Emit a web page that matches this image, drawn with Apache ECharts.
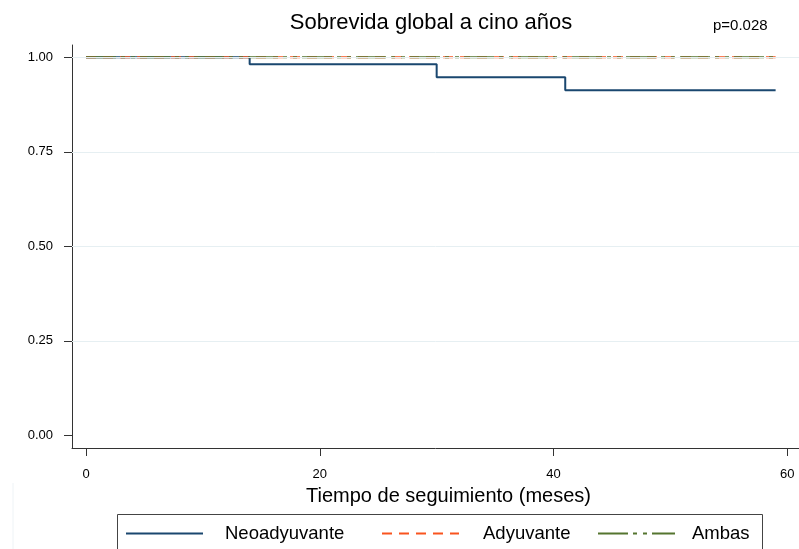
<!DOCTYPE html>
<html>
<head>
<meta charset="utf-8">
<script src="https://cdn.jsdelivr.net/npm/echarts@6/dist/echarts.min.js"></script>
<style>html,body{margin:0;padding:0;background:#fff}#c{width:799px;height:549px}</style>
</head>
<body>
<div id="c"></div>
<script>
const seriesNames = ['Neoadyuvante', 'Adyuvante', 'Ambas'];
const neoTime = [0, 14, 30, 41, 59];
const neoSurv = [1, 0.982, 0.947, 0.913, 0.913];
const adyTime = [0, 59];
const adySurv = [1, 1];
const ambTime = [0, 59];
const ambSurv = [1, 1];
const xTicks = [0, 20, 40, 60];
const yTicks = [0, 0.25, 0.5, 0.75, 1];
const gridValues = [0.25, 0.5, 0.75, 1];
const titleText = 'Sobrevida global a cino años';
const pText = 'p=0.028';
const xName = 'Tiempo de seguimiento (meses)';

const FONT = '"Liberation Sans", Arial, Helvetica, sans-serif';
const pair = (t, s) => t.map((v, i) => [v, s[i]]);
const colors = ['#1a476f', '#f9541f', '#55752f'];

const chart = echarts.init(document.getElementById('c'), null, {renderer: 'canvas'});
const legendLefts = [125, 381, 597];
const legendTextGap = [17, 19, 12];
chart.setOption({
  animation: false,
  backgroundColor: '#ffffff',
  title: [
    {text: titleText, left: 426, top: 7, textAlign: 'center',
     textStyle: {fontFamily: FONT, fontSize: 22, fontWeight: 'normal', color: '#000'}},
    {text: pText, left: 708, top: 13,
     textStyle: {fontFamily: FONT, fontSize: 15, fontWeight: 'normal', color: '#000'}}
  ],
  grid: {left: 72, top: 45, right: -7, bottom: 101, containLabel: false},
  xAxis: {
    type: 'value', min: -1.2, max: 61,
    name: xName, nameLocation: 'middle', nameGap: 38,
    nameTextStyle: {fontFamily: FONT, fontSize: 20, color: '#000', padding: [0, 0, 0, 26]},
    axisLine: {show: true, onZero: false, lineStyle: {color: '#333', width: 1}},
    axisTick: {show: true, inside: false, length: 8, customValues: xTicks, lineStyle: {color: '#333'}},
    axisLabel: {customValues: xTicks, margin: 20, fontFamily: FONT, fontSize: 13, color: '#000'},
    splitLine: {show: false}
  },
  yAxis: {
    type: 'value', min: -0.0336, max: 1.0326,
    axisLine: {show: true, onZero: false, lineStyle: {color: '#333', width: 1}},
    axisTick: {show: true, inside: false, length: 8, customValues: yTicks, lineStyle: {color: '#333'}},
    axisLabel: {customValues: yTicks, margin: 19, fontFamily: FONT, fontSize: 13, color: '#000',
      formatter: v => v.toFixed(2)},
    splitLine: {show: false}
  },
  legend: legendLefts.map((l, i) => ({
    data: [seriesNames[i]], left: l, top: 524, padding: 0,
    itemWidth: 77, itemHeight: 20, selectedMode: false,
    itemStyle: {opacity: 0},
    textStyle: {fontFamily: FONT, fontSize: 18.5, color: '#000', padding: [0, 0, 0, legendTextGap[i]]}
  })),
  graphic: [
    {type: 'rect', shape: {x: 117.5, y: 514.5, width: 645, height: 60},
     style: {fill: 'none', stroke: '#444', lineWidth: 1}, silent: true},
    {type: 'line', shape: {x1: 13, y1: 483, x2: 13, y2: 549},
     style: {stroke: '#eef3f6', lineWidth: 1}, silent: true}
  ],
  series: [
    {name: '_grid', type: 'line', data: [], z: 1, silent: true,
     markLine: {silent: true, symbol: 'none', label: {show: false},
       lineStyle: {color: '#e6eff2', type: 'solid', width: 1},
       data: gridValues.map(v => ({yAxis: v}))}},
    {name: seriesNames[0], type: 'line', step: 'end', data: pair(neoTime, neoSurv),
     showSymbol: false, symbol: 'none', z: 2, color: colors[0],
     lineStyle: {color: colors[0], width: 2, type: 'solid'}},
    {name: seriesNames[1], type: 'line', step: 'end', data: pair(adyTime, adySurv),
     showSymbol: false, symbol: 'none', z: 3, color: colors[1],
     lineStyle: {color: colors[1], width: 2, type: [10, 7]}},
    {name: seriesNames[2], type: 'line', step: 'end', data: pair(ambTime, ambSurv),
     showSymbol: false, symbol: 'none', z: 4, color: colors[2],
     lineStyle: {color: colors[2], width: 2, type: [30, 5, 4, 6, 4, 5]}}
  ]
});
</script>
</body>
</html>
